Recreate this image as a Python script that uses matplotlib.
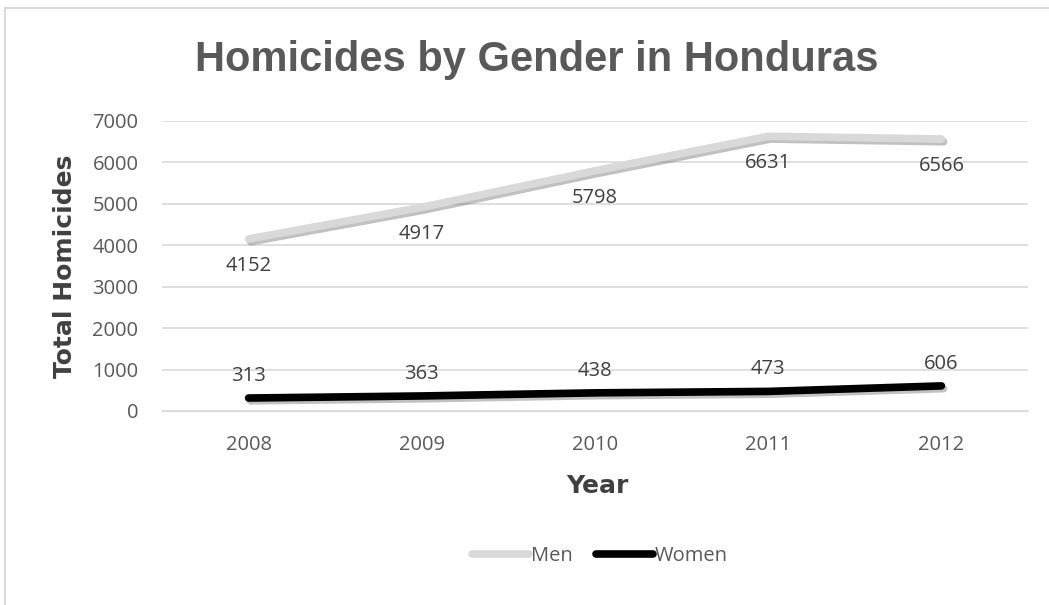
import matplotlib
matplotlib.use('Agg')
import matplotlib.pyplot as plt
import matplotlib.patheffects as pe
from matplotlib.lines import Line2D
from matplotlib.patches import Rectangle

# data
years = ['2008', '2009', '2010', '2011', '2012']
men = [4152, 4917, 5798, 6631, 6566]
women = [313, 363, 438, 473, 606]

grey_txt = '#595959'
plt.rcParams['font.family'] = ['Open Sans', 'DejaVu Sans']

W, H = 1049, 605
fig = plt.figure(figsize=(W / 100, H / 100), dpi=100)
ax = fig.add_axes([162 / W, 1 - 411 / H, 866 / W, 290 / H])

# outer chart border (only left and top edges fall inside the image)
fig.patches.append(Rectangle((5 / W, -0.1), 1.2, 1.1 - 8 / H,
                             transform=fig.transFigure, fill=False,
                             edgecolor='#d9d9d9', linewidth=1.5))

x = list(range(len(years)))
shadow = [pe.SimpleLineShadow(offset=(1.5, -2), shadow_color='#777777', alpha=0.45), pe.Normal()]
ax.plot(x, men, color='#d9d9d9', linewidth=5.5, solid_capstyle='round',
        path_effects=shadow, zorder=3)
ax.plot(x, women, color='#000000', linewidth=5.5, solid_capstyle='round',
        path_effects=shadow, zorder=3)

for i, v in enumerate(men):
    ax.annotate(str(v), (i, v), xytext=(0, -27), textcoords='offset pixels',
                ha='center', va='center', fontsize=14.5, color='#404040')
for i, v in enumerate(women):
    ax.annotate(str(v), (i, v), xytext=(0, 22), textcoords='offset pixels',
                ha='center', va='center', fontsize=14.5, color='#404040')

ax.set_xlim(-0.5, 4.5)
ax.set_ylim(0, 7000)
ax.set_yticks(range(0, 7001, 1000))
ax.set_xticks(x)
ax.set_xticklabels(years)
ax.grid(axis='y', color='#d9d9d9', linewidth=1.2)
ax.set_axisbelow(True)
for s in ax.spines.values():
    s.set_visible(False)
ax.spines['bottom'].set_visible(True)
ax.spines['bottom'].set_color('#d9d9d9')
ax.tick_params(length=0, labelsize=14.5, labelcolor=grey_txt)
ax.tick_params(axis='x', pad=17)
ax.tick_params(axis='y', pad=17)

fig.text(597 / W, 1 - 486 / H, 'Year', ha='center', va='center', fontsize=18,
         fontweight='heavy', color='#404040', family='DejaVu Sans')
fig.text(65 / W, 1 - 266 / H, 'Total Homicides', ha='center', va='center', rotation=90,
         fontsize=18, fontweight='heavy', color='#404040', family='DejaVu Sans')

fig.text(537 / W, 1 - 60 / H, 'Homicides by Gender in Honduras', ha='center', va='center',
         fontsize=30, fontweight='bold', color=grey_txt, family='Liberation Sans')

handles = [Line2D([], [], color='#d9d9d9', linewidth=5.5, solid_capstyle='round'),
           Line2D([], [], color='#000000', linewidth=5.5, solid_capstyle='round')]
fig.legend(handles, ['Men', 'Women'], loc='center', bbox_to_anchor=(600 / W, 1 - 556 / H),
           ncol=2, frameon=False, fontsize=14.5, labelcolor=grey_txt,
           handlelength=2.8, handletextpad=0.1, columnspacing=1.2)

fig.savefig('out.png', dpi=100)
